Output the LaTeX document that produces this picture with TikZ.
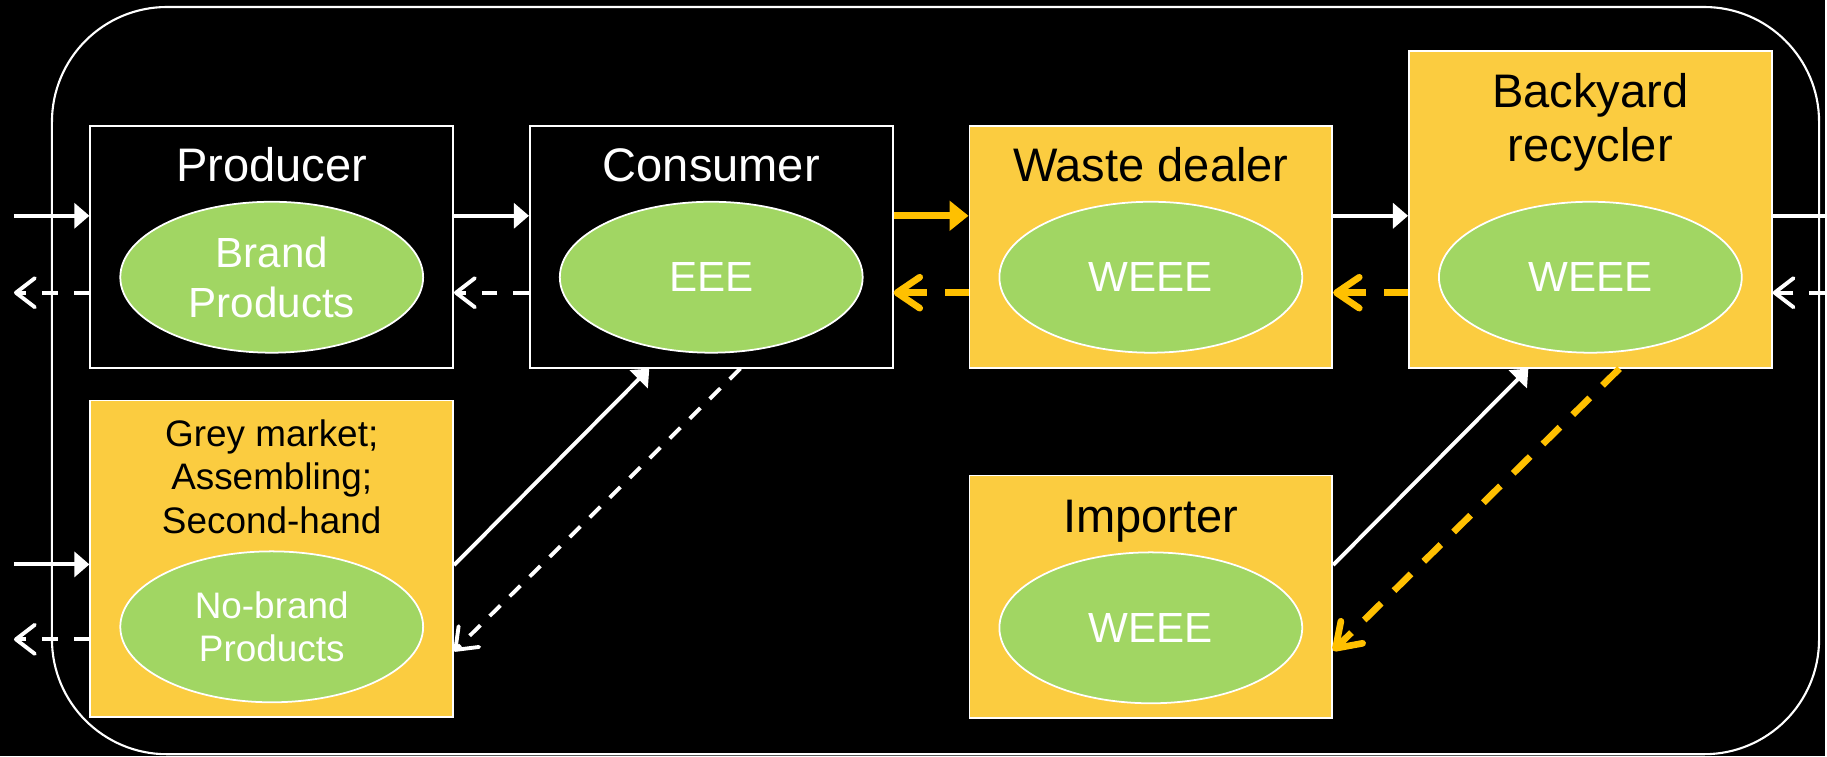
\documentclass[tikz,border=0pt]{standalone}
\usepackage{fontspec}
\setmainfont{Liberation Sans}
\usetikzlibrary{arrows.meta,positioning,shapes.geometric,calc}
\definecolor{boxgold}{RGB}{251,204,64}
\definecolor{flowgold}{RGB}{255,192,0}
\definecolor{coregreen}{RGB}{161,214,99}

\begin{document}
\begin{tikzpicture}[
  x=0.01cm, y=-0.01cm,
  % Boxes and ellipses
  every node/.style={font=\fontsize{13.4}{15.6}\selectfont},
  stage/.style={
    draw=white,
    line width=0.5pt,
    minimum width=3.63cm,
    minimum height=2.42cm,
    inner sep=0pt
  },
  darkbox/.style={stage, fill=black},
  goldbox/.style={stage, fill=boxgold},
  title/.style={anchor=base, align=center, inner sep=0pt},
  core/.style={
    ellipse,
    draw=white,
    line width=0.5pt,
    fill=coregreen,
    minimum width=3.03cm,
    minimum height=1.51cm,
    inner sep=0pt,
    align=center,
    text=white,
    font=\fontsize{12}{14.2}\selectfont
  },
  % Connectors
  flow/.style={-{Triangle[length=4.3pt,width=7.1pt]}, white, line width=1.1pt},
  back/.style={-{Straight Barb[length=5.4pt,width=8.3pt,round]}, white, line width=1.1pt, dash pattern=on 4.5pt off 4.5pt},
  goldflow/.style={-{Triangle[length=5.4pt,width=8.3pt]}, flowgold, line width=2pt},
  goldback/.style={-{Straight Barb[length=6.5pt,width=8.8pt,round]}, flowgold, line width=1.9pt, dash pattern=on 6.8pt off 5.1pt},
  node distance=0.75cm
]

% Background and frame
\fill[black] (0,0) rectangle (1827,757);
\draw[white, line width=0.6pt, rounded corners=1.15cm] (52,7) rectangle (1821,755);

% Outside ends
\coordinate (inP) at (14,216);
\coordinate (outP) at (14,293);
\coordinate (inG) at (14,565);
\coordinate (outG) at (14,640);
\coordinate (exitR) at (1827,216);
\coordinate (entR) at (1827,293);

% Top row
\node[darkbox] (prod) at (272,247) {};
\node[darkbox, right=of prod] (cons) {};
\node[goldbox, right=of cons] (deal) {};
\node[goldbox, minimum height=3.17cm, above right=0cm and 0.75cm of deal.south east] (yard) {};

% Bottom row
\node[goldbox, minimum height=3.17cm, below=0.31cm of prod] (grey) {};
\node[goldbox, minimum height=2.43cm, below=1.06cm of deal] (imp) {};

% Titles (base = last line)
\node[title, text=white] (prodT) at ([yshift=-0.57cm]prod.north) {Producer};
\node[title, text=white] (consT) at ([yshift=-0.57cm]cons.north) {Consumer};
\node[title] (dealT) at ([yshift=-0.57cm]deal.north) {Waste dealer};
\node[title] (yardT) at ([yshift=-1.12cm]yard.north) {Backyard\\recycler};
\node[title, font=\fontsize{10.5}{12.4}\selectfont] (greyT) at ([yshift=-1.34cm]grey.north) {Grey market;\\Assembling;\\Second-hand};
\node[title] (impT) at ([yshift=-0.58cm]imp.north) {Importer};

% Ellipses
\node[core, above=0.15cm of prod.south] (prodE) {Brand\\Products};
\node[core, above=0.15cm of cons.south] (consE) {EEE};
\node[core, above=0.15cm of deal.south] (dealE) {WEEE};
\node[core, above=0.15cm of yard.south] (yardE) {WEEE};
\node[core, above=0.15cm of grey.south, font=\fontsize{10.5}{12.5}\selectfont] (greyE) {No-brand\\Products};
\node[core, above=0.15cm of imp.south] (impE) {WEEE};

% Horizontal flows
\draw[flow] (inP) -- (inP -| prod.west);
\draw[back] (prod.west |- outP) -- (outP);
\draw[flow] (prod.east |- inP) -- (cons.west |- inP);
\draw[back] (cons.west |- outP) -- (prod.east |- outP);
\draw[goldflow] (cons.east |- inP) -- (deal.west |- inP);
\draw[goldback] (deal.west |- outP) -- (cons.east |- outP);
\draw[flow] (deal.east |- inP) -- (yard.west |- inP);
\draw[goldback] (yard.west |- outP) -- (deal.east |- outP);
\draw[white, line width=1.1pt] (yard.east |- inP) -- (exitR);
\draw[back] (entR) -- (yard.east |- outP);
\draw[flow] (inG) -- (inG -| grey.west);
\draw[back] (grey.west |- outG) -- (outG);

% Diagonal flows
\draw[flow] ($(grey.north east)!0.52!(grey.south east)$) -- ($(cons.south west)!0.33!(cons.south east)$);
\draw[back, dash pattern=on 4.3pt off 3.7pt] ($(cons.south west)!0.58!(cons.south east)$) -- ($(grey.north east)!0.79!(grey.south east)$);
\draw[flow] ($(imp.north east)!0.37!(imp.south east)$) -- ($(yard.south west)!0.33!(yard.south east)$);
\draw[goldback] ($(yard.south west)!0.58!(yard.south east)$) -- ($(imp.north east)!0.72!(imp.south east)$);

\end{tikzpicture}
\end{document}
